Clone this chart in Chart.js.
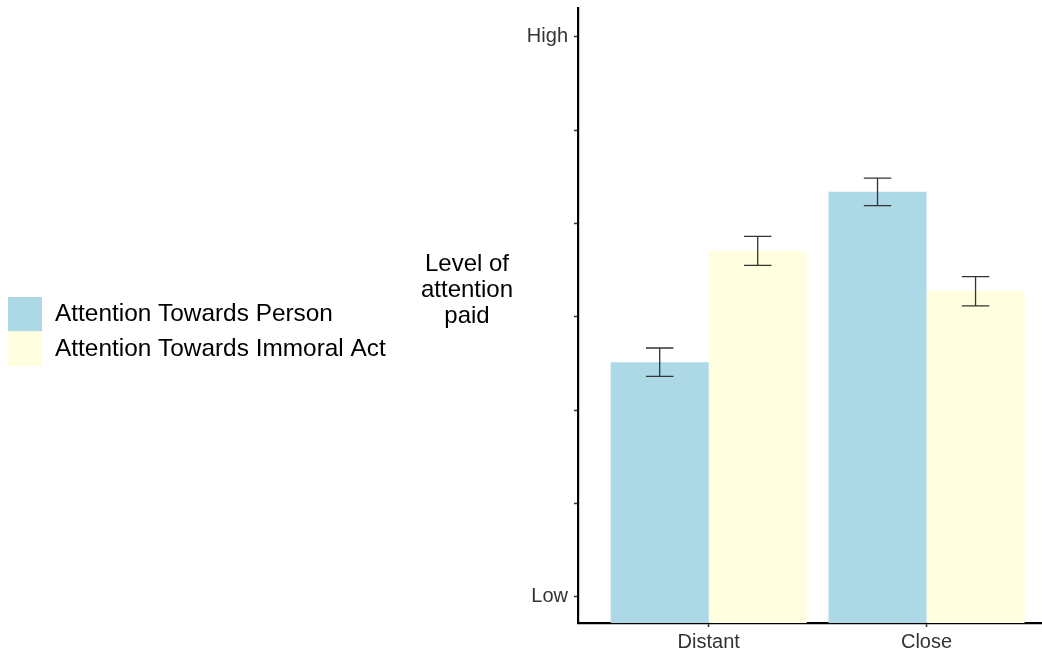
<!DOCTYPE html>
<html>
<head>
<meta charset="utf-8">
<script src="https://cdn.jsdelivr.net/npm/chart.js@4"></script>
<style>
  html, body { margin: 0; padding: 0; background: #fff; }
  #wrap { width: 1042px; height: 655px; position: relative; }
</style>
</head>
<body>
<div id="wrap"><canvas id="attentionChart"></canvas></div>
<script>
// Datos
const categories = ['Distant', 'Close'];
const seriesNames = ['Attention Towards Person', 'Attention Towards Immoral Act'];
const personValues = [3.515, 5.34];
const personErr = [0.152, 0.148];
const actValues = [4.707, 4.275];
const actErr = [0.155, 0.157];
const yTickValues = [1, 2, 3, 4, 5, 6, 7];
const yTickLabels = ['Low', '', '', '', '', '', 'High'];
const yTitleLines = ['Level of', 'attention', 'paid'];

const colors = {
    person: '#ADD8E6',
    act: '#FFFFE0',
    axis: '#000000',
    tickText: '#333333',
    errorBar: '#333333'
};

const FONT = "'Liberation Sans', Arial, sans-serif";
Chart.defaults.font.family = FONT;

// Barras de error dibujadas con las escalas del gráfico
const errorBarPlugin = {
    id: 'errorBars',
    afterDatasetsDraw(chart) {
        const ctx = chart.ctx;
        const yScale = chart.scales.y;
        chart.data.datasets.forEach((ds, di) => {
            const meta = chart.getDatasetMeta(di);
            meta.data.forEach((bar, i) => {
                const v = ds.data[i].y;
                const e = ds.errors[i];
                const yTop = yScale.getPixelForValue(v + e);
                const yBot = yScale.getPixelForValue(v - e);
                const half = bar.width * 0.14;
                ctx.save();
                ctx.strokeStyle = colors.errorBar;
                ctx.lineWidth = 1.3;
                ctx.beginPath();
                ctx.moveTo(bar.x, yTop);
                ctx.lineTo(bar.x, yBot);
                ctx.moveTo(bar.x - half, yTop);
                ctx.lineTo(bar.x + half, yTop);
                ctx.moveTo(bar.x - half, yBot);
                ctx.lineTo(bar.x + half, yBot);
                ctx.stroke();
                ctx.restore();
            });
        });
    }
};

// Título del eje Y horizontal y leyenda a la izquierda
const sideTextPlugin = {
    id: 'sideText',
    afterDraw(chart) {
        const ctx = chart.ctx;
        const area = chart.chartArea;
        ctx.save();
        ctx.fillStyle = '#000';
        ctx.font = '24px ' + FONT;
        ctx.textAlign = 'center';
        ctx.textBaseline = 'alphabetic';
        const cx = area.left - 111;
        const cy = (area.top + area.bottom) / 2;
        yTitleLines.forEach((line, i) => {
            ctx.fillText(line, cx, cy - 44.5 + i * 26);
        });

        ctx.font = '24.4px ' + FONT;
        ctx.textAlign = 'left';
        ctx.textBaseline = 'middle';
        chart.data.datasets.forEach((ds, i) => {
            const y = 297 + i * 34.5;
            ctx.fillStyle = ds.backgroundColor;
            ctx.fillRect(8, y, 34, 34.5);
            ctx.fillStyle = '#000';
            ctx.fillText(ds.label, 55, y + 17.5);
        });
        ctx.restore();
    }
};

const ctx = document.getElementById('attentionChart').getContext('2d');
new Chart(ctx, {
    type: 'bar',
    data: {
        datasets: [{
            label: seriesNames[0],
            data: personValues.map((v, i) => ({ x: i + 1, y: v })),
            errors: personErr,
            backgroundColor: colors.person,
            borderWidth: 0
        }, {
            label: seriesNames[1],
            data: actValues.map((v, i) => ({ x: i + 1, y: v })),
            errors: actErr,
            backgroundColor: colors.act,
            borderWidth: 0
        }]
    },
    options: {
        responsive: true,
        maintainAspectRatio: false,
        animation: false,
        layout: {
            padding: { top: 8, left: 0, right: 0, bottom: 0 }
        },
        datasets: {
            bar: {
                barPercentage: 1,
                categoryPercentage: 0.9
            }
        },
        plugins: {
            legend: { display: false },
            tooltip: { enabled: false }
        },
        scales: {
            x: {
                type: 'linear',
                min: 0.4,
                max: 2.53,
                offset: false,
                afterBuildTicks: function (scale) {
                    scale.ticks = categories.map((c, i) => ({ value: i + 1 }));
                },
                afterFit: function (scale) {
                    scale.height = 32;
                    scale.paddingLeft = 0;
                    scale.paddingRight = 0;
                },
                grid: {
                    offset: false,
                    drawOnChartArea: false,
                    drawTicks: true,
                    tickLength: 4,
                    tickWidth: 1.5,
                    tickColor: '#333'
                },
                border: {
                    display: true,
                    color: colors.axis,
                    width: 2.2
                },
                ticks: {
                    padding: 3,
                    color: colors.tickText,
                    font: { size: 20 },
                    maxRotation: 0,
                    callback: function (value) {
                        return categories[value - 1] || '';
                    }
                }
            },
            y: {
                min: 0.72,
                max: 7.31,
                afterBuildTicks: function (scale) {
                    scale.ticks = yTickValues.map(v => ({ value: v }));
                },
                afterFit: function (scale) {
                    scale.width = 578;
                    scale.paddingTop = 0;
                    scale.paddingBottom = 0;
                },
                grid: {
                    drawOnChartArea: false,
                    drawTicks: true,
                    tickLength: 4,
                    tickWidth: 1.5,
                    tickColor: '#333'
                },
                border: {
                    display: true,
                    color: colors.axis,
                    width: 2.2
                },
                ticks: {
                    padding: 6,
                    color: colors.tickText,
                    font: { size: 20 },
                    callback: function (value) {
                        const idx = yTickValues.indexOf(value);
                        return idx >= 0 ? yTickLabels[idx] : '';
                    }
                }
            }
        }
    },
    plugins: [errorBarPlugin, sideTextPlugin]
});
</script>
</body>
</html>
